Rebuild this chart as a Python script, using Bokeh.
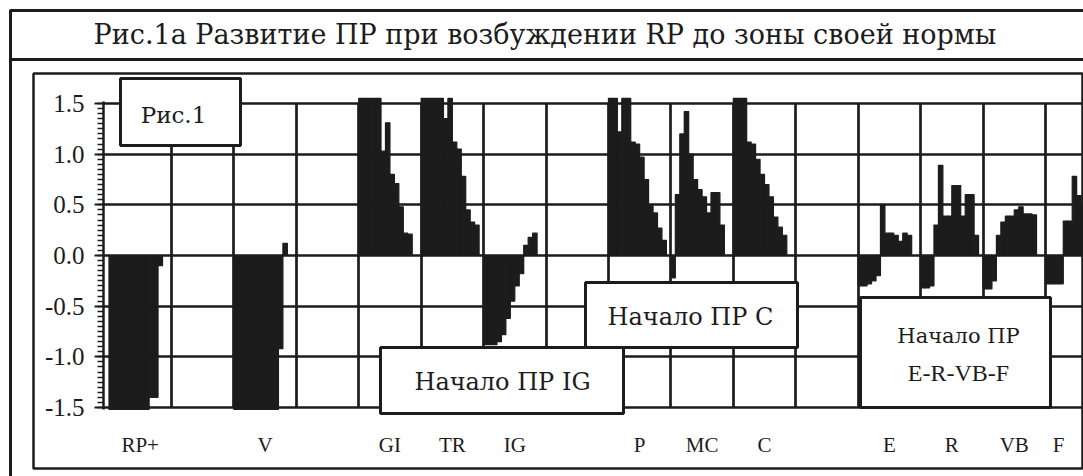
from bokeh.plotting import figure
from bokeh.models import (FixedTicker, BoxAnnotation, Label, Range1d, NumeralTickFormatter)
from bokeh.embed import file_html
from bokeh.resources import INLINE

# ---------------- data ----------------
categories = ["RP+", "", "V", "", "GI", "TR", "IG", "", "P", "MC", "C", "", "E", "R", "VB", "F"]

rp_plus = [-1.52, -1.52, -1.52, -1.52, -1.52, -1.52, -1.52, -1.52, -1.52, -1.4, -1.4, -0.1]
v_vals = [-1.52, -1.52, -1.52, -1.52, -1.52, -1.52, -1.52, -1.52, -1.52, -1.52, -0.92, 0.12]
gi_vals = [1.55, 1.55, 1.55, 1.55, 1.55, 1.03, 1.31, 0.8, 0.71, 0.48, 0.22, 0.21]
tr_vals = [1.55, 1.55, 1.55, 1.55, 1.55, 1.35, 1.55, 1.12, 1.05, 0.78, 0.45, 0.33, 0.3]
ig_vals = [-0.88, -0.88, -0.88, -0.85, -0.78, -0.62, -0.45, -0.3, -0.18, 0.1, 0.18, 0.22]
p_vals = [1.55, 1.55, 1.22, 1.55, 1.55, 1.12, 1.1, 0.97, 0.75, 0.49, 0.42, 0.27, 0.15]
mc_vals = [-0.22, 0.6, 1.2, 1.42, 1.0, 0.75, 0.65, 0.58, 0.42, 0.62, 0.62, 0.3]
c_vals = [1.55, 1.55, 1.55, 1.12, 1.1, 0.95, 0.8, 0.7, 0.58, 0.38, 0.28, 0.2]
e_vals = [-0.3, -0.3, -0.28, -0.25, -0.2, 0.5, 0.22, 0.22, 0.2, 0.14, 0.22, 0.2]
r_vals = [-0.32, -0.32, -0.3, 0.3, 0.89, 0.39, 0.39, 0.69, 0.69, 0.39, 0.6, 0.6, 0.2]
vb_vals = [-0.33, -0.33, -0.25, 0.2, 0.33, 0.39, 0.39, 0.45, 0.48, 0.41, 0.41, 0.4]
f_vals = [-0.28, -0.28, -0.28, -0.28, 0.34, 0.34, 0.78, 0.59, 0.5, 0.41, 0.3, 0.28, 0.16]

series = {"RP+": rp_plus, "V": v_vals, "GI": gi_vals, "TR": tr_vals, "IG": ig_vals,
          "P": p_vals, "MC": mc_vals, "C": c_vals, "E": e_vals, "R": r_vals,
          "VB": vb_vals, "F": f_vals}

y_ticks = [-1.5, -1.0, -0.5, 0.0, 0.5, 1.0, 1.5]
title_text = "Рис.1а   Развитие ПР при возбуждении RP до зоны своей нормы"
fig_label = "Рис.1"
note_ig = "Начало ПР IG"
note_c = "Начало ПР C"
note_erf = ["Начало ПР", "E-R-VB-F"]

# ---------------- layout constants ----------------
W, H = 1083, 476
PER_SLOT = 14
SLOT_PX = 62.43          # pixel width of one category slot
SLOT0_PX = 108.5         # pixel x of the first slot's left edge
AXIS_PX = 103            # pixel x of the value axis
RIGHT_PX = 1082          # pixel x of the right edge of the chart area
Y_ZERO_PX = 255.0
Y_UNIT_PX = 101.33

X_LO = -SLOT0_PX / SLOT_PX
X_HI = (W - SLOT0_PX) / SLOT_PX
X_AXIS = (AXIS_PX - SLOT0_PX) / SLOT_PX
X_RIGHT = (RIGHT_PX - SLOT0_PX) / SLOT_PX
Y_HI = Y_ZERO_PX / Y_UNIT_PX
Y_LO = (Y_ZERO_PX - H) / Y_UNIT_PX

INK = "#1c1c1c"
FONT = "'Liberation Serif', 'DejaVu Serif', serif"
CYR_FONT = "'DejaVu Serif', 'Noto Serif', 'Liberation Serif', serif"

xs, tops = [], []
for k, cat in enumerate(categories):
    for i, v in enumerate(series.get(cat, [])):
        xs.append(k + (i + 0.5) / PER_SLOT)
        tops.append(v)

p = figure(width=W, height=H, output_backend="svg", toolbar_location=None,
           x_range=Range1d(X_LO, X_HI), y_range=Range1d(Y_LO, Y_HI),
           min_border=0, min_border_left=0, min_border_right=0,
           min_border_top=0, min_border_bottom=0)
p.outline_line_color = None
p.background_fill_color = "white"
p.border_fill_color = "white"

p.vbar(x=xs, top=tops, bottom=0, width=1.0 / PER_SLOT,
       fill_color=INK, line_color=INK, line_width=1.2)

# y axis, drawn inside the canvas at the chart's left edge
ya = p.yaxis[0]
ya.fixed_location = X_AXIS
ya.bounds = (-1.52, 1.52)
ya.ticker = FixedTicker(ticks=y_ticks,
                        minor_ticks=[round(-1.5 + 0.05 * i, 2) for i in range(61)])
ya.formatter = NumeralTickFormatter(format="0.0")
ya.axis_line_color = INK
ya.axis_line_width = 2.5
ya.major_tick_line_color = INK
ya.major_tick_line_width = 2
ya.major_tick_out = 9
ya.major_tick_in = 0
ya.minor_tick_line_color = INK
ya.minor_tick_line_width = 1.5
ya.minor_tick_out = 6
ya.minor_tick_in = 0
ya.major_label_text_font = FONT
ya.major_label_text_font_size = "25px"
ya.major_label_text_color = INK
ya.major_label_standoff = 10

# x axis: category labels only
label_pos, overrides = [], {}
for k, cat in enumerate(categories):
    if cat:
        pos = round(min(k + 0.5, X_RIGHT - 0.38), 2)
        label_pos.append(pos)
        overrides[pos] = cat
xa = p.xaxis[0]
xa.fixed_location = -1.5
xa.ticker = FixedTicker(ticks=label_pos)
xa.major_label_overrides = overrides
xa.axis_line_color = None
xa.major_tick_line_color = None
xa.minor_tick_line_color = None
xa.major_label_text_font = FONT
xa.major_label_text_font_size = "21px"
xa.major_label_text_color = INK
xa.major_label_standoff = 20

# grids restricted to the chart's value area
p.xgrid.ticker = FixedTicker(ticks=list(range(1, len(categories))))
p.xgrid.cross_bounds = (-1.5, 1.5)
p.ygrid.ticker = FixedTicker(ticks=y_ticks)
p.ygrid.cross_bounds = (X_AXIS, X_RIGHT)
for g in (p.xgrid, p.ygrid):
    g.grid_line_color = INK
    g.grid_line_width = 2.7
    g.grid_line_alpha = 1.0

# helpers: page pixel coordinates -> screen units (origin at bottom-left)
def box(x0, y0, x1, y1, lw=2.5, fill=False):
    return BoxAnnotation(left=x0, right=x1, top=H - y0, bottom=H - y1,
                         left_units="screen", right_units="screen",
                         top_units="screen", bottom_units="screen",
                         fill_color="white", fill_alpha=1.0 if fill else 0.0,
                         line_color=INK, line_width=lw, line_alpha=1.0)

def text(x, y, txt, size, font=CYR_FONT):
    return Label(x=x, y=H - y, x_units="screen", y_units="screen", text=txt,
                 text_font=font, text_font_size=size, text_color=INK,
                 text_align="center", text_baseline="middle")

p.add_layout(box(10, 10, 1100, 490, lw=3))   # outer frame
p.add_layout(box(10, 10, 1100, 59, lw=3))    # title band
p.add_layout(box(33, 73, RIGHT_PX, 468))     # chart area
p.add_layout(text(553, 34, title_text, "27px"))

p.add_layout(box(120, 78, 240, 145, lw=3, fill=True))
p.add_layout(text(173, 114, fig_label, "23px"))

p.add_layout(box(585, 282, 797, 347, lw=3, fill=True))
p.add_layout(text(690, 316, note_c, "24px"))

p.add_layout(box(380, 347, 623, 413, lw=3, fill=True))
p.add_layout(text(502, 381, note_ig, "24px"))

p.add_layout(box(860, 297, 1050, 407, lw=3, fill=True))
p.add_layout(text(958, 335, note_erf[0], "21px"))
p.add_layout(text(958, 372, note_erf[1], "24px", FONT))

open("out.html", "w").write(file_html(p, INLINE))
